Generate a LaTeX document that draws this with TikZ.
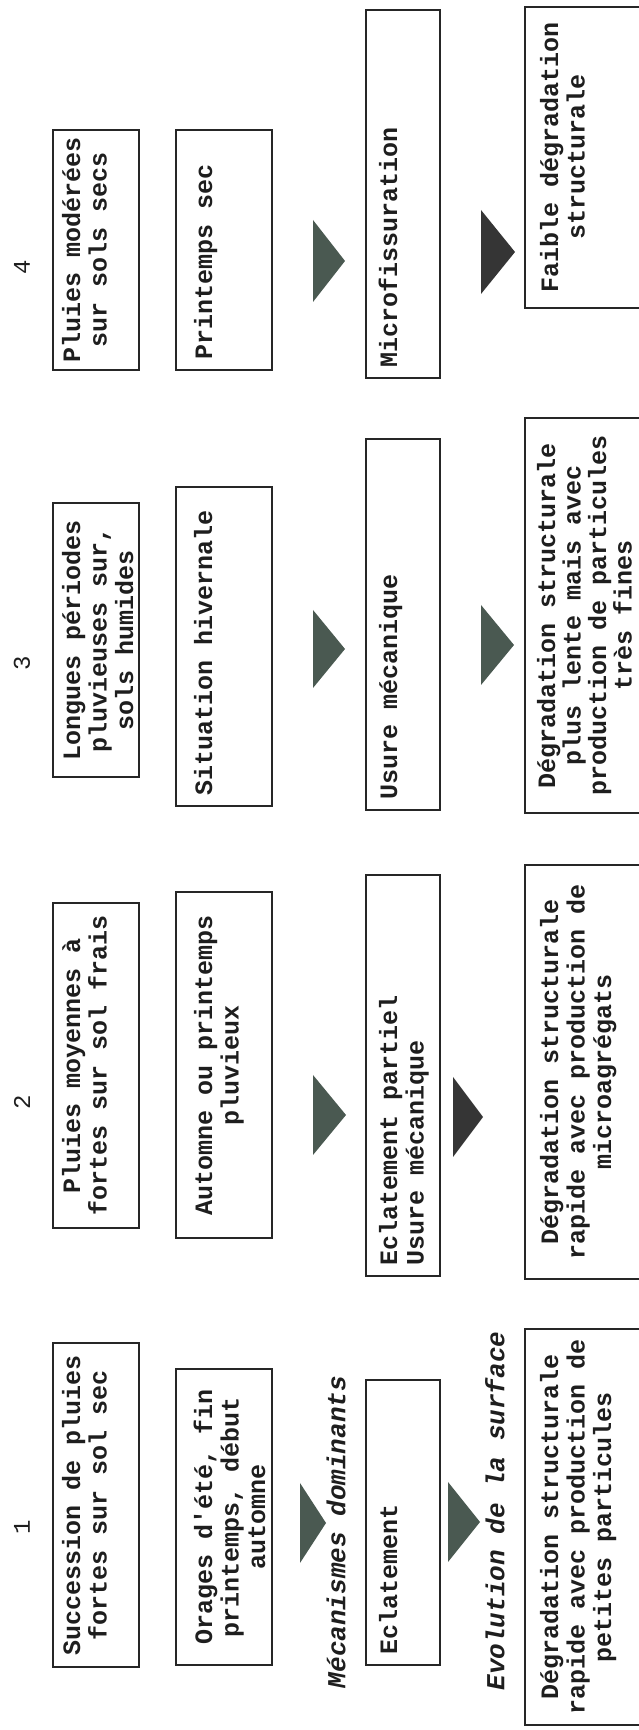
\documentclass[tikz,border=0pt]{standalone}
\usepackage{fontspec}
\setmonofont{Liberation Mono}
\definecolor{cellborder}{HTML}{262626}
\definecolor{celltext}{HTML}{1E1E1E}
\definecolor{trigreen}{HTML}{4A5951}
\definecolor{tridark}{HTML}{353535}

\newcommand{\cellfont}{\ttfamily\bfseries\fontsize{25}{26.5}\selectfont}
% box text: height, width, top padding, alignment, lines
\newcommand{\celltxt}[5]{\parbox[c][#1pt][t]{#2pt}{\vspace*{#3pt}#4\strut#5}}
\newcommand{\ctr}{\centering}
\newcommand{\lft}{\raggedright\leftskip=10pt}

\begin{document}
\begin{tikzpicture}[
      x=1pt, y=1pt,
      cell/.style={draw=cellborder, line width=1.5pt, inner sep=0pt,
        rotate=90, text=celltext, font=\cellfont},
      head/.style={rotate=90, inner sep=0pt, text=celltext,
        font=\ttfamily\bfseries\itshape\fontsize{26}{28}\selectfont},
      num/.style={rotate=90, inner sep=0pt, text=celltext,
        font=\ttfamily\fontsize{24}{26}\selectfont}
    ]
      \path[use as bounding box] (0,0) rectangle (638,1730);

      % period 1
      \node[num] (n1) at (22,203) {1};
      \node[cell] (sit1) at (96,225)
        {\celltxt{86}{324}{8.6}{\ctr}{Succession de pluies\\fortes sur sol sec}};
      \node[cell] (sea1) at (224,213)
        {\celltxt{96}{296}{17.6}{\ctr}{Orages d'été, fin\\printemps, début\\automne}};
      \node[cell] (mec1) at (403,207.5)
        {\celltxt{74}{285}{12.6}{\lft}{Eclatement}};
      \node[cell] (evo1) at (587.5,203)
        {\celltxt{125}{396}{14.6}{\ctr}{Dégradation structurale\\rapide avec production de\\petites particules}};
      \node[head] (mech) at (336,198) {Mécanismes dominants};
      \node[head] (evol) at (495,219) {Evolution de la surface};

      % period 2
      \node[num] (n2) at (22,628) {2};
      \node[cell] (sit2) at (96,664.5)
        {\celltxt{86}{325}{8.6}{\ctr}{Pluies moyennes à\\fortes sur sol frais}};
      \node[cell] (sea2) at (224,665)
        {\celltxt{96}{346}{17.6}{\ctr}{Automne ou printemps\\pluvieux}};
      \node[cell] (mec2) at (403,654.5)
        {\celltxt{74}{401}{12.6}{\lft}{Eclatement partiel\\Usure mécanique}};
      \node[cell] (evo2) at (587.5,658)
        {\celltxt{125}{414}{14.6}{\ctr}{Dégradation structurale\\rapide avec production de\\microagrégats}};

      % period 3
      \node[num] (n3) at (22,1067) {3};
      \node[cell] (sit3) at (96,1090)
        {\celltxt{86}{274}{8.6}{\ctr}{Longues périodes\\pluvieuses sur,\\sols humides}};
      \node[cell] (sea3) at (224,1083.5)
        {\celltxt{96}{319}{17.6}{\lft}{Situation hivernale}};
      \node[cell] (mec3) at (403,1105.5)
        {\celltxt{74}{371}{12.6}{\lft}{Usure mécanique}};
      \node[cell] (evo3) at (587.5,1114.5)
        {\celltxt{125}{395}{11.6}{\ctr}{Dégradation structurale\\[-1pt]plus lente mais avec\\[-1pt]production de particules\\[-1pt]très fines}};

      % period 4
      \node[num] (n4) at (22,1463) {4};
      \node[cell] (sit4) at (96,1480)
        {\celltxt{86}{240}{8.6}{\ctr}{Pluies modérées\\sur sols secs}};
      \node[cell] (sea4) at (224,1480)
        {\celltxt{96}{240}{17.6}{\lft}{Printemps sec}};
      \node[cell] (mec4) at (403,1536)
        {\celltxt{74}{368}{12.6}{\lft}{Microfissuration}};
      \node[cell] (evo4) at (587.5,1572.5)
        {\celltxt{125}{301}{14.6}{\ctr}{Faible dégradation\\structurale}};

      % triangles
      \foreach \xa/\xb/\yc/\hh/\col in {300/326/207/40/trigreen,
          448/480/208/40/trigreen, 313/346/615/40/trigreen,
          453/483/613/40/tridark, 313/345/1081/39/trigreen,
          481/514/1085/40/trigreen, 313/345/1469/41/trigreen,
          481/515/1478/42/tridark}
        \fill[\col] (\xa,\yc+\hh) -- (\xb,\yc) -- (\xa,\yc-\hh) -- cycle;
    \end{tikzpicture}
\end{document}
